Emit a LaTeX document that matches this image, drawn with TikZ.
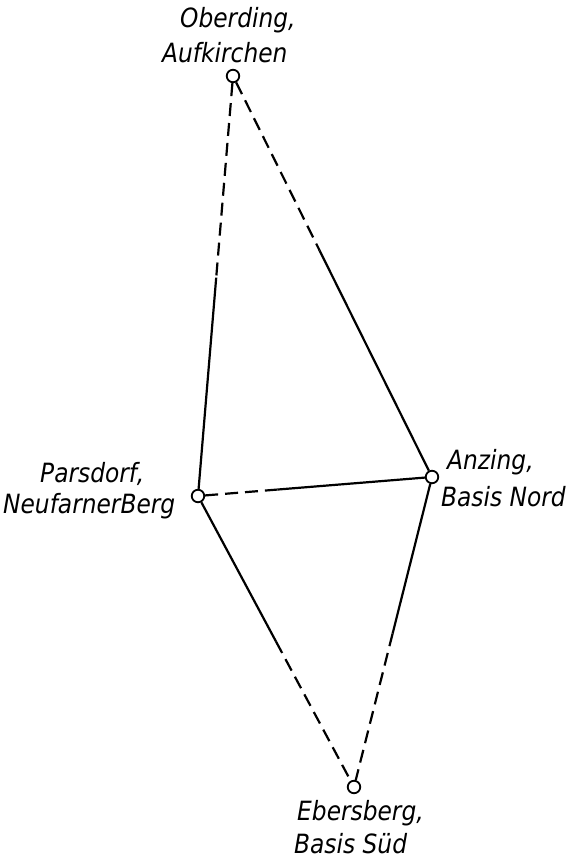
\documentclass[tikz,border=0pt]{standalone}
\usepackage{fontspec}
\setmainfont{DejaVu Sans}[FakeStretch=0.88]
\usetikzlibrary{calc}
\begin{document}
\begin{tikzpicture}[x=1pt,y=-1pt,
  station/.style={circle,draw,fill=white,line width=1.8pt,inner sep=0pt,minimum size=12.5pt},
  lab/.style={font=\fontsize{26.5}{34}\selectfont\itshape,anchor=base west,inner sep=0pt},
  seg/.style={line width=2.2pt},
  dsh/.style={seg,dash pattern=on 13pt off 7pt}]
\useasboundingbox (0,0) rectangle (568,859);
\fill[white] (0,0) rectangle (568,859);
% stations
\node[station] (O) at (233,76) {};
\node[station] (P) at (198,496) {};
\node[station] (A) at (432,477) {};
\node[station] (E) at (354,787) {};
% break points between dashed and solid parts
\coordinate (op) at ($(O.center)!0.48!(P.center)$);
\coordinate (oa) at ($(O.center)!0.435!(A.center)$);
\coordinate (pa) at ($(P.center)!0.34!(A.center)$);
\coordinate (pe) at ($(P.center)!0.50!(E.center)$);
\coordinate (ae) at ($(A.center)!0.505!(E.center)$);
% connectors
\draw[dsh] (O) -- (op);
\draw[seg] (op) -- (P);
\draw[dsh] (O) -- (oa);
\draw[seg] (oa) -- (A);
\draw[dsh] (P) -- (pa);
\draw[seg] (pa) -- (A);
\draw[seg] (P) -- (pe);
\draw[dsh] (pe) -- (E);
\draw[seg] (A) -- (ae);
\draw[dsh] (ae) -- (E);
% labels
\node[lab] (o1) at (180,28) {Oberding,};
\node[lab] (o2) at (162,63) {Aufkirchen};
\node[lab] (p1) at (40,482) {Parsdorf,};
\node[lab] (p2) at (3,513) {NeufarnerBerg};
\node[lab] (a1) at (447,469) {Anzing,};
\node[lab] (a2) at (441,506) {Basis Nord};
\node[lab] (e1) at (297,820) {Ebersberg,};
\node[lab] (e2) at (294,853) {Basis Süd};
\end{tikzpicture}
\end{document}
